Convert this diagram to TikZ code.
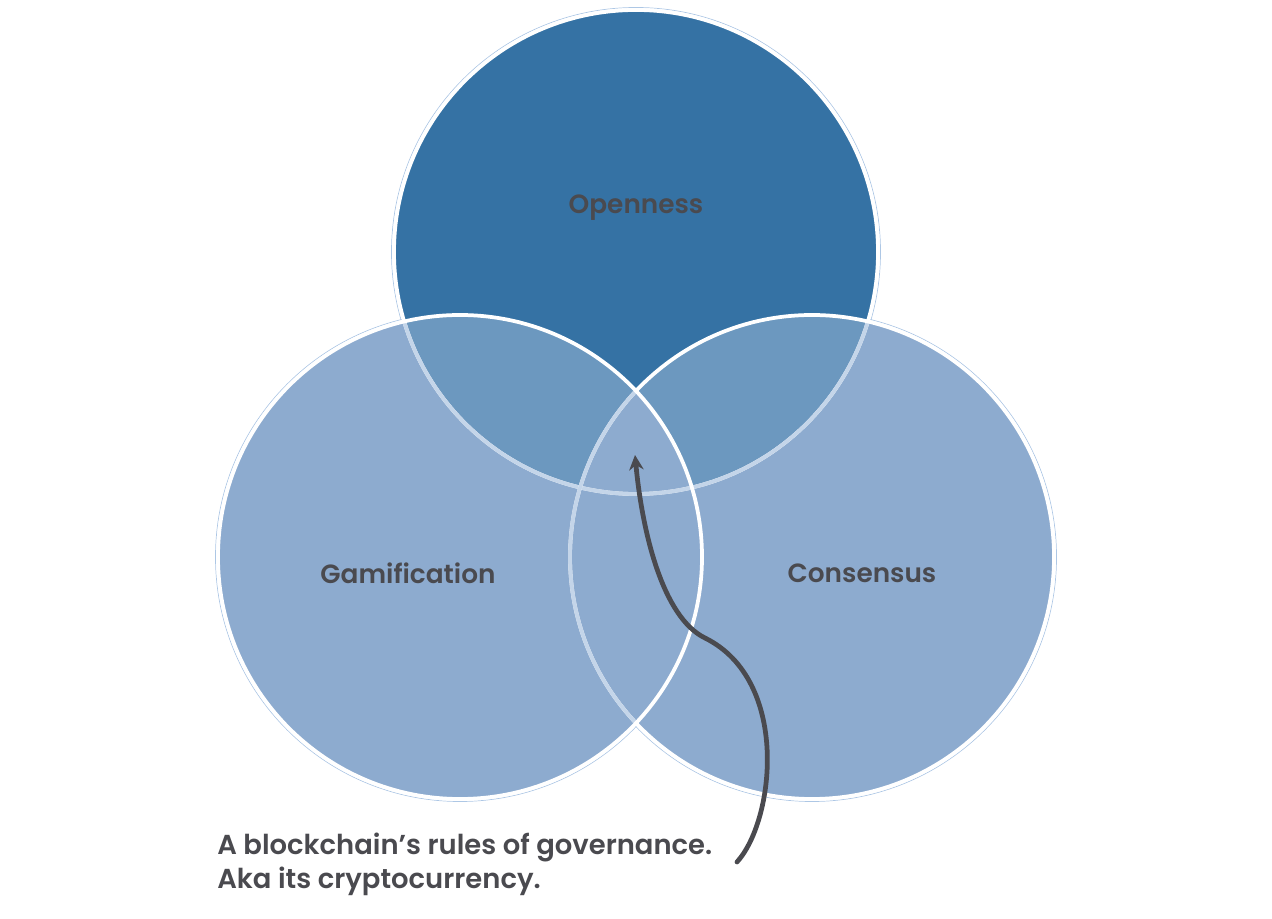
\documentclass[tikz,border=0pt]{standalone}
\usepackage{fontspec}
\setmainfont{Poppins}[UprightFont=* SemiBold]
\usepackage{xcolor}
\usetikzlibrary{
    arrows.meta,
    positioning
}
\definecolor{opendark}{HTML}{3572A4}
\definecolor{venlight}{HTML}{8DABCF}
\definecolor{venmid}{HTML}{6C98BF}
\definecolor{rimlight}{HTML}{C4D5E9}
\definecolor{ringblue}{HTML}{8AAFDA}
\definecolor{labelgray}{HTML}{4A4A4F}

\begin{document}
\begin{tikzpicture}[
    circlabel/.style={text=labelgray, font=\fontsize{15}{18}\selectfont},
    rim/.style={draw=white, line width=0.075cm},
    softrim/.style={draw=rimlight, line width=0.075cm},
    ring/.style={draw=ringblue, line width=0.4pt, opacity=0.7},
    pointer/.style={-{Stealth[length=0.3cm, width=0.29cm]}, draw=labelgray, line width=0.095cm, line cap=round}
]
                \useasboundingbox (0, 0) rectangle (25.44, 18.36);

                % circle centres
                \coordinate (opencen) at (12.72, 13.32);
                \coordinate (gamecen) at (9.20, 7.22);
                \coordinate (conscen) at (16.24, 7.22);

                % thin outer rings
                \draw[ring] (opencen) circle (4.89);
                \draw[ring] (gamecen) circle (4.89);
                \draw[ring] (conscen) circle (4.89);

                % fills
                \fill[opendark] (opencen) circle (4.84);
                \fill[venlight] (gamecen) circle (4.84);
                \fill[venlight] (conscen) circle (4.84);
                \begin{scope}
                    \clip (opencen) circle (4.84);
                    \fill[venmid] (gamecen) circle (4.84);
                    \fill[venmid] (conscen) circle (4.84);
                    \clip (gamecen) circle (4.84);
                    \fill[venlight] (conscen) circle (4.84);
                \end{scope}

                % borders
                \draw[rim] (opencen) circle (4.84);
                \begin{scope}
                    \clip (gamecen) circle (4.84) (conscen) circle (4.84);
                    \draw[softrim] (opencen) circle (4.84);
                \end{scope}
                \draw[rim] (conscen) circle (4.84);
                \begin{scope}
                    \clip (gamecen) circle (4.84);
                    \draw[softrim] (conscen) circle (4.84);
                \end{scope}
                \draw[rim] (gamecen) circle (4.84);

                % labels
                \node[circlabel] (openness) at (12.72, 14.20) {Openness};
                \node[circlabel] (gamification) at (8.16, 6.90) {Gamification};
                \node[circlabel] (consensus) at (17.24, 6.90) {Consensus};

                % caption and arrow
                \node[anchor=north west, align=left, inner sep=0, text=labelgray, font=\fontsize{15.6}{19.3}\selectfont] (caption) at (4.34, 1.70) {A blockchain’s rules of governance.\\Aka its cryptocurrency.};
                \coordinate (tail) at (14.74, 1.12);
                \coordinate (tip) at (12.70, 9.26);
                \draw[pointer] (tail) .. controls (15.50, 1.96) and (15.80, 4.76) .. (14.10, 5.60)
                    .. controls (13.24, 6.02) and (12.84, 7.76) .. (tip);
\end{tikzpicture}
\end{document}
